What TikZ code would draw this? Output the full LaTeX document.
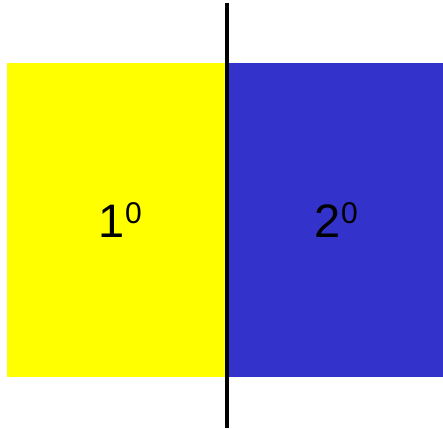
\documentclass[tikz,border=0pt]{standalone}
\usepackage{fontspec}
\setmainfont{Liberation Sans}
\definecolor{sideyellow}{RGB}{255,255,0}
\definecolor{sideblue}{RGB}{51,51,204}
\newcommand{\sidelabel}[1]{{\fontsize{47}{47}\selectfont #1}\hspace{1pt}\raisebox{14pt}{\fontsize{30}{30}\selectfont 0}}

\begin{document}
\begin{tikzpicture}[x=1pt,y=-1pt]
		\useasboundingbox (0,0) rectangle (443,428);
		\fill[color=sideyellow](7,63) rectangle (227,377);
		\fill[color=sideblue](227,63) rectangle (443,377);
		\coordinate (top) at (226.5,3);
		\coordinate (bottom) at (226.5,428);
		\draw[line width=4pt](top) -- (bottom);
		\node[anchor=base, inner sep=0pt] (one) at (120,237) {\sidelabel{1}};
		\node[anchor=base, inner sep=0pt] (two) at (336,237) {\sidelabel{2}};
	\end{tikzpicture}
\end{document}
